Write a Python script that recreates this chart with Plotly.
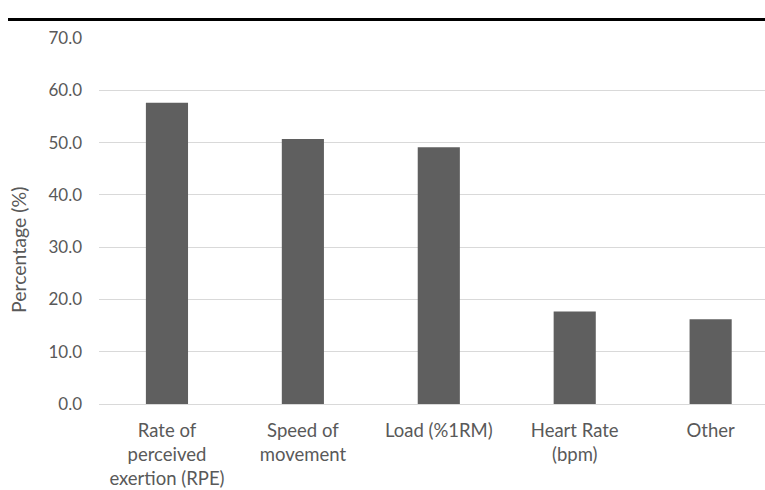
import plotly.graph_objects as go

categories = ["Rate of<br>perceived<br>exertion (RPE)", "Speed of<br>movement", "Load (%1RM)",
              "Heart Rate<br>(bpm)", "Other"]
values = [57.6, 50.7, 49.1, 17.7, 16.2]
y_ticks = [0, 10, 20, 30, 40, 50, 60, 70]
y_tick_labels = [f"{v:.1f}" for v in y_ticks]
y_title = "Percentage (%)"

FONT = "Lato, 'Open Sans', sans-serif"
GRAY = "#595959"

# plot area in pixels
L, T, B = 99, 38, 86
PW, PH = 765 - L, 490 - T - B

fig = go.Figure(go.Bar(
    x=list(range(len(categories))), y=values,
    marker=dict(color="#5f5f5f", line=dict(width=0)),
    width=0.31,
))

fig.update_layout(
    width=765, height=490,
    margin=dict(l=L, r=0, t=T, b=B),
    paper_bgcolor="white", plot_bgcolor="white",
    showlegend=False,
    font=dict(family=FONT, color=GRAY, size=17),
    xaxis=dict(
        range=[-0.5, 4.4], tickmode="array",
        tickvals=list(range(len(categories))), ticktext=categories,
        showgrid=False, showline=True, linecolor="#d9d9d9", linewidth=1,
        ticks="", tickfont=dict(size=18.5, color=GRAY), ticklabelstandoff=10,
        zeroline=False,
    ),
    yaxis=dict(
        range=[0, 70], tickmode="array", tickvals=y_ticks, ticktext=y_tick_labels,
        showgrid=True, gridcolor="#d9d9d9", gridwidth=1,
        zeroline=False, showline=False, ticks="",
        tickfont=dict(size=17, color=GRAY), ticklabelstandoff=16,
    ),
    annotations=[dict(
        text=y_title, textangle=-90, showarrow=False,
        xref="paper", yref="paper",
        x=(18 - L) / PW, y=(404 - 250) / PH,
        xanchor="center", yanchor="middle",
        font=dict(size=19.5, color=GRAY, family=FONT),
    )],
    shapes=[dict(type="line", xref="paper", yref="paper",
                 x0=(8 - L) / PW, x1=1.0,
                 y0=(404 - 19.5) / PH, y1=(404 - 19.5) / PH,
                 line=dict(color="black", width=3))],
)

fig.write_html("out.html")
